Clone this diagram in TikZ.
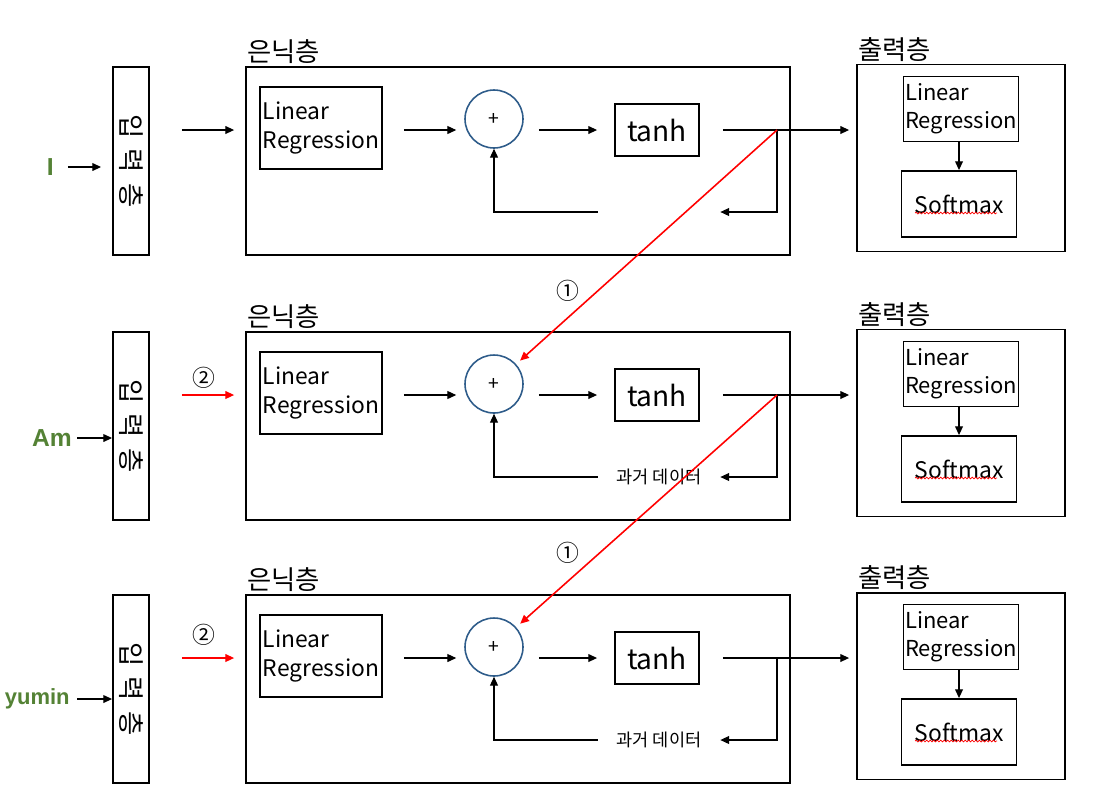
\documentclass[tikz,border=0pt]{standalone}
\usepackage{fontspec}
\setmainfont{Noto Sans CJK KR}
\newfontfamily\wordfont{Liberation Sans}
\usepackage{graphicx}
\usepackage{xcolor}
\usetikzlibrary{arrows.meta, positioning, calc, decorations.pathmorphing}

\definecolor{wordgreen}{HTML}{548235}
\definecolor{sumblue}{HTML}{2E5C8A}

\begin{document}
\begin{tikzpicture}[
    x=0.02cm, y=-0.02cm,
    font=\fontsize{13}{16}\selectfont,
    inbox/.style={draw, line width=1.1pt, minimum width=0.72cm, minimum height=3.76cm, inner sep=0pt, font=\fontsize{15}{15}\selectfont},
    hidbox/.style={draw, line width=1.1pt, minimum width=10.88cm, minimum height=3.76cm, inner sep=0pt},
    outbox/.style={draw, line width=1.1pt, minimum width=4.16cm, minimum height=3.74cm, inner sep=0pt},
    lrbox/.style={draw, line width=1.1pt, minimum width=2.44cm, minimum height=1.64cm, inner sep=0pt, align=left},
    olrbox/.style={draw, line width=1.1pt, minimum width=2.3cm, minimum height=1.3cm, inner sep=0pt, align=left, font=\fontsize{12.5}{16}\selectfont},
    smbox/.style={draw, line width=1.1pt, minimum width=2.3cm, minimum height=1.32cm, inner sep=0pt},
    tanhbox/.style={draw, line width=1.1pt, minimum width=1.68cm, minimum height=1.04cm, inner sep=0pt, font=\fontsize{16}{16}\selectfont},
    sumnode/.style={circle, draw=sumblue, line width=0.9pt, minimum size=1.16cm, inner sep=0pt, font=\fontsize{11}{11}\selectfont},
    fbtext/.style={minimum width=2.44cm, inner sep=0pt, font=\fontsize{10}{10}\selectfont},
    layername/.style={anchor=south west, inner sep=1pt, font=\fontsize{15}{15}\selectfont},
    word/.style={anchor=east, inner sep=0pt, text=wordgreen, font=\wordfont\bfseries\fontsize{14}{14}\selectfont},
    circnum/.style={inner sep=0pt, font=\fontsize{13}{13}\selectfont},
    arr/.style={-{Triangle[length=5pt, width=4.5pt]}, line width=0.6pt},
    redarr/.style={arr, draw=red, fill=red, line width=0.9pt},
    squiggle/.style={draw=red, line width=0.4pt, decorate, decoration={snake, amplitude=0.5pt, segment length=2pt}}
]
\useasboundingbox (0,0) rectangle (1097,799);

% input words
\node[word] (w1) at (54,167) {I};
\node[word] (w2) at (72,438) {Am};
\node[word, font=\wordfont\bfseries\fontsize{12.5}{12.5}\selectfont] (w3) at (70,699) {yumin};

% one row per time step
\foreach \r/\dy/\c in {1/0/black, 2/265/red, 3/528/red} {
  \node[inbox] (inp\r) at (131,161+\dy) {\rotatebox{-90}{입\hspace{0.4em}력\hspace{0.4em}층}};

  \node[hidbox] (hid\r) at (518,161+\dy) {};
  \node[layername] at (hid\r.north west) {은닉층};
  \node[lrbox] (lr\r) at (321,128+\dy) {Linear\\Regression};
  \node[sumnode] (sum\r) at (494,119+\dy) {+};
  \node[tanhbox] (tanh\r) at (657,130+\dy) {tanh};
  \coordinate (br\r) at (777,130+\dy);
  \node[fbtext] (fb\r) at (659,212+\dy) {\ifnum\r>1 과거 데이터\fi};

  \node[outbox] (out\r) at (961,158+\dy) {};
  \node[layername] at (out\r.north west) {출력층};
  \node[olrbox] (olr\r) at (961,109+\dy) {Linear\\Regression};
  \node[smbox] (osm\r) at (959,204+\dy) {Softmax};
  \draw[squiggle] ($(osm\r.center)+(-44,9)$) -- ($(osm\r.center)+(38,9)$);

  % flow inside the row
  \draw[arr, draw=\c, fill=\c, shorten <=0.64cm, shorten >=0.22cm] (inp\r.east |- tanh\r) -- (hid\r.west |- tanh\r);
  \draw[arr, shorten <=0.42cm, shorten >=0.16cm] (lr\r.east |- tanh\r) -- (sum\r.west |- tanh\r);
  \draw[arr, shorten <=0.3cm, shorten >=0.34cm] (sum\r.east |- tanh\r) -- (tanh\r.west);
  \draw[arr, shorten <=0.46cm, shorten >=0.14cm] (tanh\r.east) -- (tanh\r.east -| out\r.west);
  \draw[arr] (br\r) |- (fb\r.east);
  \draw[arr] (fb\r.west) -| (sum\r.south);
  \draw[arr] (olr\r.south -| osm\r.north) -- (osm\r.north);
}

% words into the input layer
\draw[arr, shorten <=0.28cm, shorten >=0.22cm] (w1.east) -- (w1.east -| inp1.west);
\draw[arr, shorten <=0.1cm] (w2.east) -- (w2.east -| inp2.west);
\draw[arr, shorten <=0.14cm] (w3.east) -- (w3.east -| inp3.west);

% hidden state passed on
\draw[redarr, shorten >=3pt] (br1) -- (sum2);
\draw[redarr, shorten >=3pt] (br2) -- (sum3);
\node[circnum] (s1) at (568,291) {①};
\node[circnum] (s2) at (568,553) {①};
\node[circnum] (p2) at (204,378) {②};
\node[circnum] (p3) at (204,635) {②};

\end{tikzpicture}
\end{document}
